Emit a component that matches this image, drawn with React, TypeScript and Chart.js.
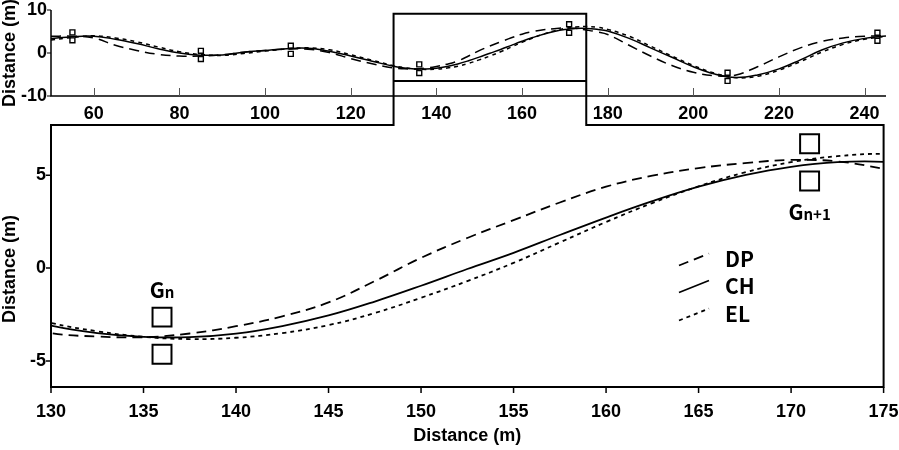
import React, { useEffect, useRef } from "react";
import { Chart, registerables } from "chart.js";

Chart.register(...registerables);

// ---------- data ----------
const XS = [
  50, 55, 60, 65, 70, 75, 80, 85, 90, 95, 100, 105, 110, 115, 120, 125,
  130, 132.5, 135, 137.5, 140, 142.5, 145, 147.5, 150, 152.5, 155, 157.5, 160, 162.5, 165, 167.5, 170, 172.5, 175,
  177.5, 180, 185, 190, 195, 200, 205, 210, 215, 220, 225, 230, 235, 240, 245,
];
const DP = [
  3.9, 3.9, 3.5, 1.8, 0.6, -0.3, -0.7, -0.7, -0.4, 0.2, 0.6, 0.9, 0.9, 0.1, -1.3, -2.5,
  -3.5, -3.68, -3.72, -3.52, -3.13, -2.6, -1.85, -0.7, 0.55, 1.62, 2.58, 3.53, 4.38, 4.97, 5.38, 5.65, 5.82, 5.74, 5.35,
  4.9, 4.3, 1.8, -0.7, -2.9, -4.5, -5.3, -5.1, -3.2, -0.9, 1.2, 2.7, 3.5, 3.9, 4.0,
];
const CH = [
  3.4, 3.8, 3.9, 3.2, 2.2, 1.0, 0.0, -0.5, -0.45, 0.2, 0.6, 1.0, 1.1, 0.4, -0.7, -1.9,
  -3.1, -3.5, -3.7, -3.72, -3.53, -3.12, -2.55, -1.8, -0.95, -0.05, 0.82, 1.78, 2.72, 3.6, 4.38, 5.0, 5.45, 5.7, 5.72,
  5.5, 5.1, 3.4, 1.2, -1.0, -3.2, -4.9, -5.7, -5.1, -3.7, -1.6, 0.7, 2.35, 3.4, 3.95,
];
const EL = [
  3.0, 3.6, 4.0, 3.5, 2.6, 1.4, 0.3, -0.35, -0.55, -0.1, 0.45, 0.95, 1.2, 0.75, -0.4, -1.7,
  -2.95, -3.4, -3.7, -3.82, -3.75, -3.5, -3.07, -2.42, -1.6, -0.7, 0.28, 1.38, 2.48, 3.5, 4.4, 5.15, 5.7, 6.02, 6.15,
  6.0, 5.5, 3.9, 1.6, -0.7, -2.9, -4.7, -5.75, -5.4, -4.0, -2.0, 0.2, 2.0, 3.2, 3.9,
];
const GATE_X = [55, 85, 106, 136, 171, 208, 243];
const GATE_UPPER = [4.8, 0.5, 1.7, -2.64, 6.69, -4.6, 4.7];
const GATE_LOWER = [2.95, -1.4, -0.2, -4.64, 4.69, -6.5, 2.85];

const TOP_X_TICKS = [60, 80, 100, 120, 140, 160, 180, 200, 220, 240];
const TOP_Y_TICKS = [-10, 0, 10];
const BOT_X_TICKS = [130, 135, 140, 145, 150, 155, 160, 165, 170, 175];
const BOT_Y_TICKS = [-5, 0, 5];
const SERIES_NAMES = ["DP", "CH", "EL"];
const AXIS_TITLE = "Distance (m)";
const ZOOM_X = [130, 175];
const ZOOM_RECT_Y = [-6.5, 9.1];
const GATE_LABELS = [
  { x: 136, base: "G", sub: "n", where: "above" },
  { x: 171, base: "G", sub: "n+1", where: "below" },
];

// ---------- styles ----------
const TICK_FONT = { family: '"Liberation Sans", Arial, sans-serif', size: 18, weight: "bold" as const };
const TITLE_FONT = 'bold 18px "Liberation Sans", Arial, sans-serif';
const LABEL_FONT = '"Noto Sans CJK KR", "Noto Sans", sans-serif';
const DASHES: Record<string, number[]> = { DP: [10, 6], CH: [], EL: [4, 4] };

const pts = (ys: number[]) => XS.map((x, i) => ({ x, y: ys[i] }));
const SERIES: Record<string, number[]> = { DP, CH, EL };

function lineSets(width: number) {
  return SERIES_NAMES.map((n) => ({
    label: n,
    data: pts(SERIES[n]),
    borderColor: "#000",
    borderWidth: width,
    borderDash: DASHES[n],
    pointRadius: 0,
    tension: 0.4,
    fill: false,
  }));
}

function gateSets(radius: number, bw: number, bg: string, filter?: (x: number) => boolean) {
  const mk = (vals: number[], label: string) => ({
    label,
    data: GATE_X.map((x, i) => ({ x, y: vals[i] })).filter((p) => (filter ? filter(p.x) : true)),
    showLine: false,
    pointStyle: "rect" as const,
    pointRadius: radius,
    pointBorderColor: "#000",
    pointBackgroundColor: bg,
    pointBorderWidth: bw,
  });
  return [mk(GATE_UPPER, "gate-upper"), mk(GATE_LOWER, "gate-lower")];
}

function fixedScale(size: number, horizontal: boolean) {
  return (s: any) => {
    if (horizontal) s.height = size;
    else s.width = size;
    s.paddingLeft = 0;
    s.paddingRight = 0;
    s.paddingTop = 0;
    s.paddingBottom = 0;
  };
}

function setTicks(values: number[]) {
  return (s: any) => {
    s.ticks = values.map((v) => ({ value: v }));
  };
}

export default function App() {
  const topRef = useRef<HTMLCanvasElement>(null);
  const botRef = useRef<HTMLCanvasElement>(null);

  useEffect(() => {
    if (!topRef.current || !botRef.current) return;

    const topPlugin = {
      id: "topAxes",
      afterDraw(chart: any) {
        const { ctx, chartArea: a, scales } = chart;
        const x = scales.x, y = scales.y;
        ctx.save();
        ctx.strokeStyle = "#000";
        ctx.lineWidth = 1.5;
        ctx.beginPath();
        ctx.moveTo(a.left, a.top);
        ctx.lineTo(a.left, a.bottom);
        ctx.lineTo(a.right, a.bottom);
        ctx.stroke();
        ctx.lineWidth = 1.2;
        ctx.beginPath();
        TOP_Y_TICKS.forEach((v) => {
          const py = y.getPixelForValue(v);
          ctx.moveTo(a.left - 4, py);
          ctx.lineTo(a.left, py);
        });
        ctx.stroke();
        ctx.strokeStyle = "#555";
        ctx.lineWidth = 1;
        ctx.beginPath();
        TOP_X_TICKS.forEach((v) => {
          const px = Math.round(x.getPixelForValue(v)) + 0.5;
          ctx.moveTo(px, a.bottom - 8);
          ctx.lineTo(px, a.bottom);
        });
        ctx.stroke();
        // y title
        ctx.fillStyle = "#000";
        ctx.font = TITLE_FONT;
        ctx.translate(15, (a.top + a.bottom) / 2);
        ctx.rotate(-Math.PI / 2);
        ctx.textAlign = "center";
        ctx.textBaseline = "alphabetic";
        ctx.fillText(AXIS_TITLE, 0, 0);
        ctx.restore();
      },
    };

    const topChart = new Chart(topRef.current, {
      type: "line",
      data: { datasets: [...lineSets(1.5), ...gateSets(3.5, 1.4, "#fff")] as any },
      options: {
        animation: false,
        responsive: false,
        layout: { padding: { top: 10, right: 13, left: 0, bottom: 325 } },
        plugins: { legend: { display: false }, tooltip: { enabled: false } },
        scales: {
          x: {
            type: "linear",
            min: 50,
            max: 245,
            afterBuildTicks: setTicks(TOP_X_TICKS),
            afterFit: fixedScale(29, true),
            grid: { display: false, drawTicks: false },
            border: { display: false },
            ticks: { font: TICK_FONT, color: "#000", padding: 7, maxRotation: 0, autoSkip: false },
          },
          y: {
            type: "linear",
            min: -10,
            max: 10,
            afterBuildTicks: setTicks(TOP_Y_TICKS),
            afterFit: fixedScale(51, false),
            grid: { display: false, drawTicks: false },
            border: { display: false },
            ticks: { font: TICK_FONT, color: "#000", padding: 4, autoSkip: false },
          },
        },
      } as any,
      plugins: [topPlugin],
    });

    const botPlugin = {
      id: "botAxes",
      afterDraw(chart: any) {
        const { ctx, chartArea: a, scales } = chart;
        const x = scales.x, y = scales.y;
        const tx = topChart.scales.x, ty = topChart.scales.y;
        const x1 = tx.getPixelForValue(ZOOM_X[0]);
        const x2 = tx.getPixelForValue(ZOOM_X[1]);
        const yT = ty.getPixelForValue(ZOOM_RECT_Y[1]);
        const yB = ty.getPixelForValue(ZOOM_RECT_Y[0]);
        ctx.save();
        ctx.strokeStyle = "#000";
        ctx.lineWidth = 2;
        ctx.beginPath();
        ctx.moveTo(x1, a.top);
        ctx.lineTo(a.left, a.top);
        ctx.lineTo(a.left, a.bottom);
        ctx.lineTo(a.right, a.bottom);
        ctx.lineTo(a.right, a.top);
        ctx.lineTo(x2, a.top);
        ctx.lineTo(x2, yT);
        ctx.lineTo(x1, yT);
        ctx.closePath();
        ctx.moveTo(x1, yB);
        ctx.lineTo(x2, yB);
        ctx.stroke();
        ctx.lineWidth = 1.5;
        ctx.beginPath();
        BOT_Y_TICKS.forEach((v) => {
          const py = y.getPixelForValue(v);
          ctx.moveTo(a.left - 5, py);
          ctx.lineTo(a.left, py);
        });
        BOT_X_TICKS.forEach((v) => {
          const px = x.getPixelForValue(v);
          ctx.moveTo(px, a.bottom);
          ctx.lineTo(px, a.bottom + 6);
        });
        ctx.stroke();

        // axis titles
        ctx.fillStyle = "#000";
        ctx.font = TITLE_FONT;
        ctx.textAlign = "center";
        ctx.textBaseline = "alphabetic";
        ctx.fillText(AXIS_TITLE, (a.left + a.right) / 2, 441);
        ctx.save();
        ctx.translate(15, a.top + (a.bottom - a.top) * 0.55);
        ctx.rotate(-Math.PI / 2);
        ctx.fillText(AXIS_TITLE, 0, 0);
        ctx.restore();

        // legend (slanted samples)
        const lx = 679, lw = 30, rise = 12, tx0 = 725;
        const baselines = [266.5, 293.5, 321.5];
        SERIES_NAMES.forEach((n, i) => {
          const b = baselines[i];
          ctx.save();
          ctx.lineWidth = 1.8;
          ctx.setLineDash(DASHES[n]);
          ctx.beginPath();
          ctx.moveTo(lx, b - 1);
          ctx.lineTo(lx + lw, b - 1 - rise);
          ctx.stroke();
          ctx.restore();
          ctx.font = `600 21px ${LABEL_FONT}`;
          ctx.textAlign = "left";
          ctx.fillText(n, tx0, b);
        });

        // gate labels
        GATE_LABELS.forEach((g) => {
          const gi = GATE_X.indexOf(g.x);
          const px = x.getPixelForValue(g.x);
          const half = 9.5;
          const base =
            g.where === "above"
              ? y.getPixelForValue(GATE_UPPER[gi]) - half - 9.5
              : y.getPixelForValue(GATE_LOWER[gi]) + half + 29.5;
          ctx.font = `600 21px ${LABEL_FONT}`;
          const wB = ctx.measureText(g.base).width;
          ctx.font = `600 15px ${LABEL_FONT}`;
          const wS = ctx.measureText(g.sub).width;
          const start = px - (wB + wS) / 2;
          ctx.textAlign = "left";
          ctx.font = `600 21px ${LABEL_FONT}`;
          ctx.fillText(g.base, start, base);
          ctx.font = `600 15px ${LABEL_FONT}`;
          ctx.fillText(g.sub, start + wB, base);
        });
        ctx.restore();
      },
    };

    const botChart = new Chart(botRef.current, {
      type: "line",
      data: {
        datasets: [
          ...lineSets(1.8),
          ...gateSets(13.4, 2, "rgba(0,0,0,0)", (gx) => gx >= ZOOM_X[0] && gx <= ZOOM_X[1]),
        ] as any,
      },
      options: {
        animation: false,
        responsive: false,
        layout: { padding: { top: 125, right: 14, left: 0, bottom: 0 } },
        plugins: { legend: { display: false }, tooltip: { enabled: false } },
        scales: {
          x: {
            type: "linear",
            min: ZOOM_X[0],
            max: ZOOM_X[1],
            afterBuildTicks: setTicks(BOT_X_TICKS),
            afterFit: fixedScale(63, true),
            grid: { display: false, drawTicks: false },
            border: { display: false },
            ticks: { font: TICK_FONT, color: "#000", padding: 14, maxRotation: 0, autoSkip: false },
          },
          y: {
            type: "linear",
            min: -6.4,
            max: 7.7,
            afterBuildTicks: setTicks(BOT_Y_TICKS),
            afterFit: fixedScale(51, false),
            grid: { display: false, drawTicks: false },
            border: { display: false },
            ticks: { font: TICK_FONT, color: "#000", padding: 5, autoSkip: false },
          },
        },
      } as any,
      plugins: [botPlugin],
    });

    return () => {
      botChart.destroy();
      topChart.destroy();
    };
  }, []);

  return (
    <div style={{ position: "fixed", left: 0, top: 0, width: 899, height: 450, background: "#fff" }}>
      <canvas ref={topRef} width={899} height={450} style={{ position: "absolute", left: 0, top: 0 }} />
      <canvas ref={botRef} width={899} height={450} style={{ position: "absolute", left: 0, top: 0 }} />
    </div>
  );
}
